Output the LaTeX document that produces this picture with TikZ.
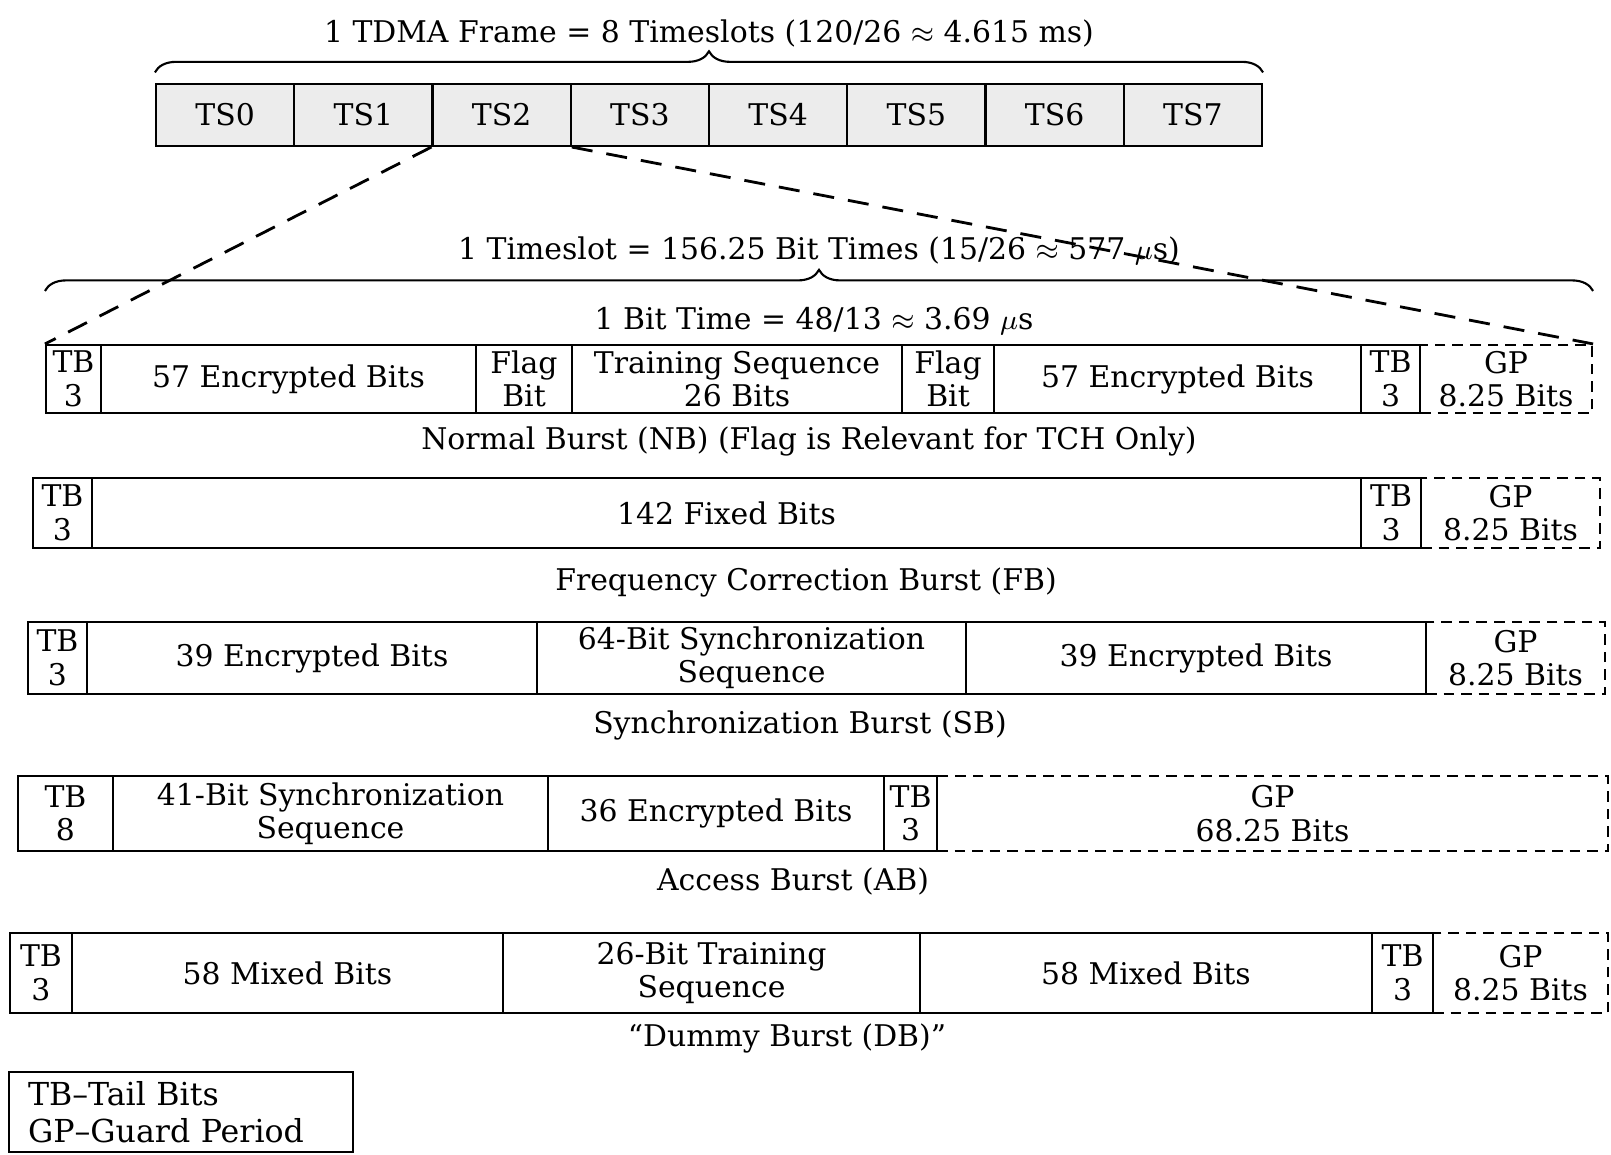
\documentclass[tikz,border=0pt]{standalone}
\usepackage{fontspec}
\setmainfont{DejaVu Serif}
\usetikzlibrary{decorations.pathreplacing}

\begin{document}
\begin{tikzpicture}[
    field/.style={draw, semithick, inner sep=0pt, align=center, font=\fontsize{8.5}{9.5}\selectfont},
    guard/.style={field, dash pattern=on 3pt off 2pt},
    slot/.style={field, fill=gray!15, minimum width=1.3825cm, minimum height=0.62cm},
    caption/.style={inner sep=0pt, font=\fontsize{8.5}{9.5}\selectfont},
    bracket/.style={decorate, decoration={brace, amplitude=6pt}, semithick},
    zoomline/.style={thick, dash pattern=on 6pt off 4pt}
]
\useasboundingbox (0,0) rectangle (16.11,11.54);

% TDMA frame on top, eight timeslots
\foreach \i in {0,...,7}
    \node[slot] (ts\i) at (2.251+1.3825*\i, 10.39) {TS\i};
\draw[bracket] ([yshift=3pt]ts0.north west) -- ([yshift=3pt]ts7.north east)
    node[caption, midway, above=7pt] (frame_lbl) {1 TDMA Frame = 8 Timeslots (120/26 $\approx$ 4.615 ms)};

% Normal burst
\node[field, minimum width=0.55cm, minimum height=0.68cm] (nb_tb1) at (0.735, 7.75) {TB\\3};
\node[field, minimum width=3.75cm, minimum height=0.68cm] (nb_enc1) at (2.885, 7.75) {57 Encrypted Bits};
\node[field, minimum width=0.96cm, minimum height=0.68cm] (nb_flag1) at (5.24, 7.75) {Flag\\Bit};
\node[field, minimum width=3.30cm, minimum height=0.68cm] (nb_train) at (7.37, 7.75) {Training Sequence\\26 Bits};
\node[field, minimum width=0.92cm, minimum height=0.68cm] (nb_flag2) at (9.48, 7.75) {Flag\\Bit};
\node[field, minimum width=3.67cm, minimum height=0.68cm] (nb_enc2) at (11.775, 7.75) {57 Encrypted Bits};
\node[field, minimum width=0.59cm, minimum height=0.68cm] (nb_tb2) at (13.905, 7.75) {TB\\3};
\node[guard, minimum width=1.72cm, minimum height=0.68cm] (nb_gp) at (15.06, 7.75) {GP\\8.25 Bits};
\node[caption] (nb_cap) at (8.09, 7.13) {Normal Burst (NB) (Flag is Relevant for TCH Only)};

% Timeslot and bit time
\draw[bracket] ([yshift=0.53cm]nb_tb1.north west) -- ([yshift=0.53cm]nb_gp.north east)
    node[caption, midway, above=7pt] (slot_lbl) {1 Timeslot = 156.25 Bit Times (15/26 $\approx$ 577 $\mu$s)};
\node[caption] (bit_lbl) at (8.14, 8.33) {1 Bit Time = 48/13 $\approx$ 3.69 $\mu$s};

% Zoom from TS2 to the burst
\draw[zoomline] (ts2.south west) -- (nb_tb1.north west);
\draw[zoomline] (ts2.south east) -- (nb_gp.north east);

% Frequency correction burst
\node[field, minimum width=0.59cm, minimum height=0.70cm] (fb_tb1) at (0.625, 6.41) {TB\\3};
\node[field, minimum width=12.69cm, minimum height=0.70cm] (fb_fixed) at (7.265, 6.41) {142 Fixed Bits};
\node[field, minimum width=0.60cm, minimum height=0.70cm] (fb_tb2) at (13.91, 6.41) {TB\\3};
\node[guard, minimum width=1.79cm, minimum height=0.70cm] (fb_gp) at (15.105, 6.41) {GP\\8.25 Bits};
\node[caption] (fb_cap) at (8.06, 5.72) {Frequency Correction Burst (FB)};

% Synchronization burst
\node[field, minimum width=0.59cm, minimum height=0.72cm] (sb_tb) at (0.575, 4.96) {TB\\3};
\node[field, minimum width=4.50cm, minimum height=0.72cm] (sb_enc1) at (3.12, 4.96) {39 Encrypted Bits};
\node[field, minimum width=4.29cm, minimum height=0.72cm] (sb_sync) at (7.515, 4.96) {64-Bit Synchronization\\Sequence};
\node[field, minimum width=4.60cm, minimum height=0.72cm] (sb_enc2) at (11.96, 4.96) {39 Encrypted Bits};
\node[guard, minimum width=1.79cm, minimum height=0.72cm] (sb_gp) at (15.155, 4.96) {GP\\8.25 Bits};
\node[caption] (sb_cap) at (8.0, 4.29) {Synchronization Burst (SB)};

% Access burst
\node[field, minimum width=0.95cm, minimum height=0.75cm] (ab_tb1) at (0.655, 3.405) {TB\\8};
\node[field, minimum width=4.35cm, minimum height=0.75cm] (ab_sync) at (3.305, 3.405) {41-Bit Synchronization\\Sequence};
\node[field, minimum width=3.36cm, minimum height=0.75cm] (ab_enc) at (7.16, 3.405) {36 Encrypted Bits};
\node[field, minimum width=0.53cm, minimum height=0.75cm] (ab_tb2) at (9.105, 3.405) {TB\\3};
\node[guard, minimum width=6.71cm, minimum height=0.75cm] (ab_gp) at (12.725, 3.405) {GP\\68.25 Bits};
\node[caption] (ab_cap) at (7.93, 2.73) {Access Burst (AB)};

% Dummy burst
\node[field, minimum width=0.62cm, minimum height=0.80cm] (db_tb1) at (0.41, 1.81) {TB\\3};
\node[field, minimum width=4.31cm, minimum height=0.80cm] (db_mix1) at (2.875, 1.81) {58 Mixed Bits};
\node[field, minimum width=4.17cm, minimum height=0.80cm] (db_train) at (7.115, 1.81) {26-Bit Training\\Sequence};
\node[field, minimum width=4.52cm, minimum height=0.80cm] (db_mix2) at (11.46, 1.81) {58 Mixed Bits};
\node[field, minimum width=0.61cm, minimum height=0.80cm] (db_tb2) at (14.025, 1.81) {TB\\3};
\node[guard, minimum width=1.75cm, minimum height=0.80cm] (db_gp) at (15.205, 1.81) {GP\\8.25 Bits};
\node[caption] (db_cap) at (7.87, 1.16) {“Dummy Burst (DB)”};

% Legend
\node[draw, semithick, anchor=south west, align=left, inner xsep=0.19cm, inner ysep=0pt,
      text width=3.06cm, minimum height=0.80cm, font=\fontsize{9}{10.5}\selectfont]
    (legend) at (0.08, 0.01) {TB--Tail Bits\\GP--Guard Period};

\end{tikzpicture}
\end{document}
